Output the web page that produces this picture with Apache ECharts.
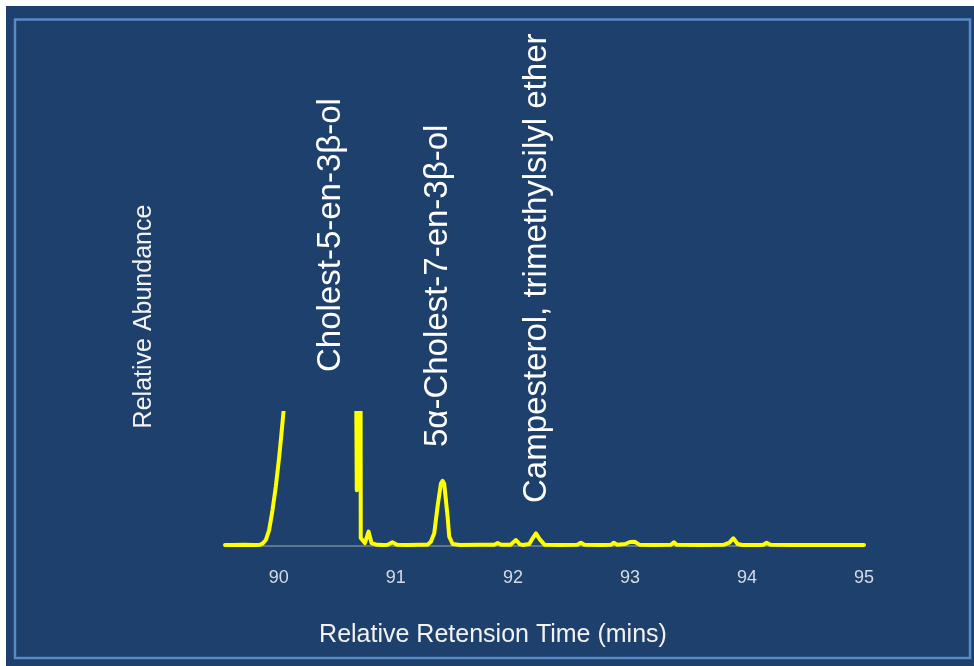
<!DOCTYPE html>
<html>
<head>
<meta charset="utf-8">
<script src="https://cdn.jsdelivr.net/npm/echarts@6/dist/echarts.min.js"></script>
<style>
  html, body { margin: 0; padding: 0; background: #ffffff; }
  #chart { width: 974px; height: 666px; }
</style>
</head>
<body>
<div id="chart"></div>
<script>
// Retention time (minutes) of each sample of the trace
const retentionTimes = [
  89.54, 89.60, 89.70, 89.80, 89.84, 89.861, 89.889, 89.917, 89.946, 89.974,
  90.003, 90.023, 90.040, 90.056, 90.08, 90.30, 90.60, 90.666, 90.686, 90.700,
  90.735, 90.767, 90.792, 90.84, 90.90, 90.93, 90.97, 91.01, 91.10, 91.20,
  91.27, 91.299, 91.328, 91.356, 91.385, 91.399, 91.413, 91.442, 91.456, 91.485,
  91.55, 91.70, 91.84, 91.87, 91.90, 91.98, 92.026, 92.06, 92.085, 92.14,
  92.17, 92.197, 92.23, 92.27, 92.40, 92.55, 92.581, 92.61, 92.75, 92.84,
  92.863, 92.89, 92.96, 93.00, 93.04, 93.08, 93.20, 93.35, 93.376, 93.40,
  93.60, 93.80, 93.85, 93.883, 93.92, 93.96, 94.10, 94.14, 94.168, 94.20,
  94.40, 94.60, 94.80, 95.00
];

// Relative abundance at each retention time (the two large sterol peaks run off scale)
const abundance = [
  0.8, 0.8, 0.9, 0.8, 1.0, 1.8, 4.5, 12, 27, 44.6,
  67, 85, 101, 118, 400, 1200, 1000, 42, 1000, 6,
  2.2, 10.8, 2.2, 0.9, 0.8, 1.0, 2.8, 0.9, 0.8, 0.9,
  1.0, 3.2, 9.5, 29.5, 47, 49, 47, 22, 7, 1.5,
  0.8, 0.9, 0.9, 2.2, 0.9, 1.0, 4.5, 1.2, 0.8, 1.5,
  6, 9.5, 5, 1.0, 0.8, 0.9, 2.5, 0.9, 0.8, 1.0,
  2.5, 1.0, 1.5, 3.0, 3.2, 1.0, 0.8, 0.9, 2.8, 0.9,
  0.8, 0.9, 2.5, 5.8, 1.5, 0.8, 0.8, 1.0, 2.5, 0.9,
  0.8, 0.8, 0.8, 0.8
];

// Labelled minutes on the time axis
const tickValues = [90, 91, 92, 93, 94, 95];

// Compound names written above their peaks
const peakNames = [
  'Cholest-5-en-3β-ol',
  '5α-Cholest-7-en-3β-ol',
  'Campesterol, trimethylsilyl ether'
];

const xTitle = 'Relative Retension Time (mins)';
const yTitle = 'Relative Abundance';

const chart = echarts.init(document.getElementById('chart'), null, { renderer: 'canvas' });

const textFont = '"Liberation Sans", Arial, sans-serif';
const labelX = [331, 438, 537];
const labelBottom = [372, 447, 503];

const graphics = [
  // panel background
  { type: 'rect', z: -10, silent: true,
    shape: { x: 6, y: 6, width: 968, height: 660 },
    style: { fill: '#1e406c' } },
  // inner frame
  { type: 'rect', z: -9, silent: true,
    shape: { x: 15, y: 19.5, width: 955, height: 638.5 },
    style: { fill: null, stroke: '#5a89c8', lineWidth: 2.5 } },
  { type: 'text', silent: true, x: 144, y: 316.5, rotation: Math.PI / 2,
    style: { text: yTitle, fill: '#f2f2f2', font: '25px ' + textFont,
             textAlign: 'center', textVerticalAlign: 'middle' } },
  { type: 'text', silent: true, x: 493, y: 635,
    style: { text: xTitle, fill: '#f2f2f2', font: '25px ' + textFont,
             textAlign: 'center', textVerticalAlign: 'middle' } }
];

peakNames.forEach((name, i) => {
  graphics.push({
    type: 'text', silent: true, x: labelX[i], y: labelBottom[i], rotation: Math.PI / 2,
    style: { text: name, fill: '#ffffff', font: '33px ' + textFont,
             textAlign: 'left', textVerticalAlign: 'middle' }
  });
});

chart.setOption({
  backgroundColor: '#ffffff',
  animation: false,
  grid: { left: 225, right: 110, top: 413, bottom: 120, containLabel: false },
  xAxis: {
    type: 'value',
    min: 89.54,
    max: 95,
    axisLine: { show: true, lineStyle: { color: '#7a8696', width: 1.5 } },
    axisTick: { show: false },
    splitLine: { show: false },
    axisLabel: {
      customValues: tickValues,
      color: '#d6dbe2',
      fontSize: 18,
      fontFamily: textFont,
      margin: 23,
      formatter: v => String(v)
    }
  },
  yAxis: {
    type: 'value',
    min: 0,
    max: 100,
    show: false
  },
  series: [{
    type: 'line',
    data: retentionTimes.map((t, i) => [t, abundance[i]]),
    showSymbol: false,
    clip: true,
    lineStyle: { color: '#ffff00', width: 4, join: 'round', cap: 'round' },
    z: 5
  }],
  graphic: graphics
});
</script>
</body>
</html>
